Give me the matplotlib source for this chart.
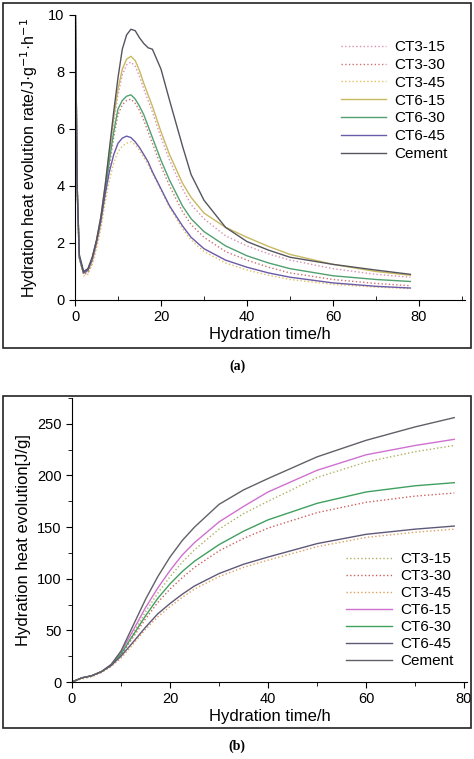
import matplotlib
matplotlib.use("Agg")
import matplotlib.pyplot as plt
from matplotlib.patches import Rectangle
from matplotlib.ticker import MultipleLocator

plt.rcParams['font.family'] = ['Liberation Sans', 'DejaVu Sans']

names = ["CT3-15", "CT3-30", "CT3-45", "CT6-15", "CT6-30", "CT6-45", "Cement"]
colors_a = ["#d98fb0", "#d07070", "#e0c060", "#c8b860", "#50a070", "#6a5aa8", "#555560"]
colors_b = ["#b0b060", "#d06060", "#e0a060", "#d070d0", "#40a060", "#605878", "#606068"]
styles = [":", ":", ":", "-", "-", "-", "-"]

# Panel (a): heat evolution rate
t_a = [0.1, 0.5, 1, 2, 3, 4, 5, 6, 7, 8, 9, 10, 11, 12, 13, 14, 15, 16, 17, 18, 20, 22, 25, 27, 30, 35, 40, 45, 50, 60, 70, 78]
rate_ct3_15 = [10, 4, 1.5, 0.92, 1.0, 1.35, 1.95, 2.7, 3.8, 5.0, 6.2, 7.2, 7.9, 8.25, 8.35, 8.2, 7.85, 7.4, 7.0, 6.6, 5.7, 4.9, 3.9, 3.35, 2.85, 2.25, 1.9, 1.62, 1.4, 1.1, 0.9, 0.8]
rate_ct3_30 = [10, 4, 1.5, 0.9, 0.95, 1.3, 1.9, 2.6, 3.6, 4.7, 5.7, 6.5, 6.85, 7.0, 7.05, 6.9, 6.65, 6.3, 5.9, 5.5, 4.7, 4.0, 3.1, 2.65, 2.2, 1.7, 1.4, 1.15, 0.95, 0.72, 0.58, 0.5]
rate_ct3_45 = [10, 4, 1.4, 0.85, 0.9, 1.25, 1.8, 2.5, 3.4, 4.2, 4.8, 5.2, 5.4, 5.5, 5.55, 5.45, 5.25, 5.0, 4.75, 4.45, 3.85, 3.25, 2.5, 2.1, 1.7, 1.3, 1.05, 0.87, 0.72, 0.55, 0.45, 0.4]
rate_ct6_15 = [10, 4, 1.5, 0.95, 1.05, 1.45, 2.1, 2.9, 4.0, 5.2, 6.4, 7.4, 8.1, 8.45, 8.55, 8.4, 8.05, 7.6, 7.2, 6.8, 5.9, 5.1, 4.1, 3.6, 3.05, 2.55, 2.2, 1.88, 1.6, 1.25, 1.0, 0.87]
rate_ct6_30 = [10, 4, 1.5, 0.95, 1.05, 1.45, 2.05, 2.8, 3.8, 4.9, 5.9, 6.7, 7.0, 7.15, 7.2, 7.05, 6.8, 6.5, 6.1, 5.7, 4.9, 4.2, 3.3, 2.85, 2.4, 1.9, 1.55, 1.3, 1.1, 0.85, 0.72, 0.65]
rate_ct6_45 = [10, 4, 1.5, 0.95, 1.05, 1.45, 2.05, 2.8, 3.7, 4.5, 5.1, 5.5, 5.68, 5.75, 5.7, 5.55, 5.35, 5.1, 4.85, 4.5, 3.9, 3.3, 2.6, 2.2, 1.8, 1.4, 1.15, 0.95, 0.8, 0.6, 0.48, 0.42]
rate_cement = [10, 4, 1.6, 1.0, 1.1, 1.5, 2.1, 2.9, 4.0, 5.3, 6.6, 7.8, 8.8, 9.3, 9.5, 9.45, 9.2, 9.0, 8.85, 8.8, 8.1, 7.0, 5.4, 4.4, 3.5, 2.55, 2.05, 1.75, 1.5, 1.25, 1.05, 0.9]
rates = [rate_ct3_15, rate_ct3_30, rate_ct3_45, rate_ct6_15, rate_ct6_30, rate_ct6_45, rate_cement]

# Panel (b): cumulative heat
t_b = [0, 2, 4, 6, 8, 10, 12, 15, 17.5, 20, 22.5, 25, 30, 35, 40, 50, 60, 70, 78]
heat_ct3_15 = [0, 4, 6, 10, 16, 27, 43, 68, 86, 102, 116, 128, 148, 163, 175, 198, 213, 223, 229]
heat_ct3_30 = [0, 4, 6, 10, 16, 26, 40, 61, 77, 90, 101, 111, 127, 139, 149, 164, 174, 180, 183]
heat_ct3_45 = [0, 3, 5, 9, 15, 23, 34, 51, 63, 73, 82, 90, 102, 111, 118, 131, 140, 145, 148]
heat_ct6_15 = [0, 4, 6, 10, 17, 29, 46, 72, 91, 108, 123, 135, 155, 170, 184, 205, 220, 229, 235]
heat_ct6_30 = [0, 4, 6, 10, 16, 27, 42, 64, 81, 95, 107, 117, 133, 146, 157, 173, 184, 190, 193]
heat_ct6_45 = [0, 4, 6, 10, 16, 25, 36, 53, 66, 76, 85, 93, 105, 114, 121, 134, 143, 148, 151]
heat_cement = [0, 4, 6, 10, 17, 30, 50, 80, 102, 121, 137, 150, 172, 186, 197, 218, 234, 247, 256]
heats = [heat_ct3_15, heat_ct3_30, heat_ct3_45, heat_ct6_15, heat_ct6_30, heat_ct6_45, heat_cement]

W, H = 474, 759
fig = plt.figure(figsize=(W / 100, H / 100), dpi=100)

def fx(px): return px / W
def fy(py): return 1 - py / H

fig.patches.append(Rectangle((fx(3), fy(348)), fx(468), 345 / H, transform=fig.transFigure,
                             fill=False, edgecolor="#222", lw=1.2))
fig.patches.append(Rectangle((fx(3), fy(728)), fx(468), 332 / H, transform=fig.transFigure,
                             fill=False, edgecolor="#222", lw=1.2))

def style_axes(ax):
    for s in ["top", "right"]:
        ax.spines[s].set_visible(False)
    ax.tick_params(which="major", direction="out", length=4, labelsize=10.5)
    ax.tick_params(which="minor", direction="in", length=3)

ax1 = fig.add_axes([fx(75), fy(300), fx(465 - 75), 285 / H])
for y, n, c, ls in zip(rates, names, colors_a, styles):
    ax1.plot(t_a, y, ls, color=c, lw=1.0, label=n)
ax1.set_xlim(0, 90.7)
ax1.set_ylim(0, 10)
ax1.xaxis.set_major_locator(MultipleLocator(20))
ax1.xaxis.set_minor_locator(MultipleLocator(10))
ax1.yaxis.set_major_locator(MultipleLocator(2))
style_axes(ax1)
ax1.set_xlabel("Hydration time/h", fontsize=12, labelpad=2)
ax1.set_ylabel("Hydration heat evolution rate/J·g$^{-1}$·h$^{-1}$", fontsize=11.5, labelpad=6)
ax1.legend(loc="upper right", bbox_to_anchor=(0.99, 0.96), frameon=False, fontsize=11,
           handlelength=3, labelspacing=0.25, handletextpad=0.5)

ax2 = fig.add_axes([fx(72), fy(682), fx(467 - 72), (682 - 398) / H])
for y, n, c, ls in zip(heats, names, colors_b, styles):
    ax2.plot(t_b, y, ls, color=c, lw=1.0, label=n)
ax2.set_xlim(0, 80.6)
ax2.set_ylim(0, 275)
ax2.xaxis.set_major_locator(MultipleLocator(20))
ax2.xaxis.set_minor_locator(MultipleLocator(10))
ax2.yaxis.set_major_locator(MultipleLocator(50))
ax2.yaxis.set_minor_locator(MultipleLocator(25))
style_axes(ax2)
ax2.tick_params(which="minor", direction="out", length=3)
ax2.set_xlabel("Hydration time/h", fontsize=12, labelpad=2)
ax2.set_ylabel("Hydration heat evolution[J/g]", fontsize=12, labelpad=4)
ax2.legend(loc="lower right", bbox_to_anchor=(1.0, 0.0), frameon=False, fontsize=11,
           handlelength=3, labelspacing=0.2, handletextpad=0.5)

fig.text(0.5, fy(366), "(a)", ha="center", va="center", fontsize=10, family="Liberation Serif", weight="bold")
fig.text(0.5, fy(746), "(b)", ha="center", va="center", fontsize=10, family="Liberation Serif", weight="bold")

fig.savefig("out.png", dpi=100)
